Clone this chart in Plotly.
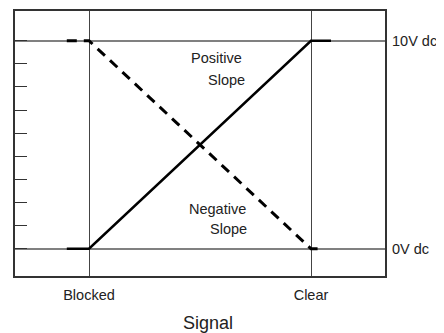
import plotly.graph_objects as go

# signal positions: 0 = Blocked, 1 = Clear
signal_pos = [-0.1, 0, 1, 1.09]
positive_volts = [0, 0, 10, 10]
neg_pos = [-0.1, 0, 1, 1.06]
negative_volts = [10, 10, 0, 0]

signal_ticks = [0, 1]
signal_labels = ['Blocked', 'Clear']
volt_ticks = [0, 1.11, 2.22, 3.33, 4.44, 5.56, 6.67, 7.78, 8.89, 10]
volt_marks = [0, 10]
volt_labels = ['0V dc', '10V dc']

font = 'Liberation Sans, Arial, sans-serif'

fig = go.Figure()
fig.add_trace(go.Scatter(x=signal_pos, y=positive_volts, mode='lines',
                         line=dict(color='black', width=2.5), hoverinfo='skip'))
fig.add_trace(go.Scatter(x=neg_pos, y=negative_volts, mode='lines',
                         line=dict(color='black', width=3, dash='10px,7px'),
                         hoverinfo='skip'))
# dummy trace so the right axis gets drawn
fig.add_trace(go.Scatter(x=[0], y=[0], yaxis='y2', mode='markers',
                         marker=dict(opacity=0), hoverinfo='skip'))

# page body has an 8px margin, so the figure is a bit smaller than the window
fig.update_layout(
    width=436, height=325,
    margin=dict(l=7, r=59, t=1, b=57),
    plot_bgcolor='white', paper_bgcolor='white',
    showlegend=False,
    font=dict(family=font, size=14.5, color='#222'),
    xaxis=dict(range=[-1/3, 4/3], tickvals=signal_ticks, ticktext=signal_labels,
               ticks='', showgrid=True, gridcolor='#444', gridwidth=1,
               zeroline=False, showline=True, linecolor='#333', linewidth=2,
               mirror=True, ticklabelstandoff=5),
    yaxis=dict(range=[-1.31, 11.43], tickvals=volt_ticks, showticklabels=False,
               ticks='inside', ticklen=12, tickcolor='#333', tickwidth=1,
               showgrid=False, zeroline=False, showline=True,
               linecolor='#333', linewidth=2, mirror=True),
    yaxis2=dict(range=[-1.31, 11.43], overlaying='y', side='right',
                tickvals=volt_marks, ticktext=volt_labels, ticks='',
                showgrid=True, gridcolor='#808080', gridwidth=1.5,
                zeroline=False, showline=False, ticklabelstandoff=6),
)

# axis title sits a little right of centre in the original
fig.add_annotation(xref='paper', yref='paper', x=0.5216, y=-0.176,
                   yanchor='middle', text='Signal', showarrow=False,
                   font=dict(size=18, color='#222'))

notes = [('Positive', 0.575, 9.15), ('Slope', 0.62, 8.1),
         ('Negative', 0.577, 1.93), ('Slope', 0.628, 0.93)]
for txt, x, y in notes:
    fig.add_annotation(x=x, y=y, text=txt, showarrow=False,
                       font=dict(size=14.5, color='#222'))

fig.write_html('out.html')
